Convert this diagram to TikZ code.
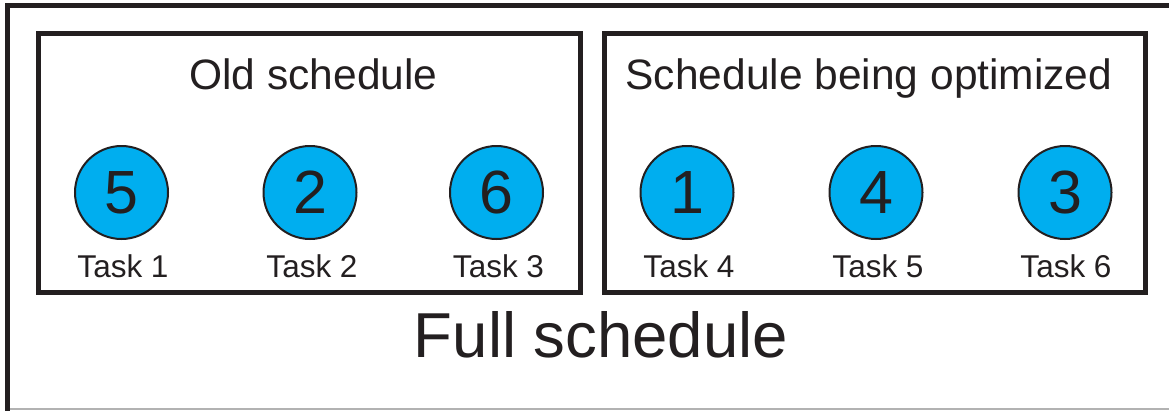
\documentclass[tikz,border=0pt]{standalone}
\usepackage{fontspec}
\setmainfont{Liberation Sans}
\definecolor{taskblue}{HTML}{00AEEF}
\definecolor{ink}{HTML}{231F20}
\begin{document}
\begin{tikzpicture}[x=1pt,y=-1pt,
  frame/.style={draw=ink, line width=5pt},
  task/.style={circle, draw=ink, line width=2pt, fill=taskblue, minimum size=93pt, inner sep=0pt, text=ink, font=\fontsize{61}{61}\selectfont},
  lbl/.style={anchor=base, text=ink, inner sep=0pt, font=\fontsize{31.5}{31.5}\selectfont},
  title/.style={anchor=base, text=ink, inner sep=0pt, font=\fontsize{42.5}{42.5}\selectfont},
  bigtitle/.style={anchor=base, text=ink, inner sep=0pt, font=\fontsize{63.5}{63.5}\selectfont}]
\useasboundingbox (0,0) rectangle (1169,410);
\clip (0,0) rectangle (1169,410);
% outer frame (right and bottom run past the edge)
\draw[frame] (7.5,5.5) rectangle (1190,425);
\draw[gray!60, line width=1.5pt] (10,409) -- (1169,409);
% inner boxes
\draw[frame] (38.5,33.5) rectangle (580.5,292.5);
\draw[frame] (604.5,33.5) rectangle (1145.5,292.5);
% titles
\node[title] (t1) at (313.5,89) {Old schedule};
\node[title] (t2) at (869,89) {Schedule being optimized};
\node[bigtitle] (full) at (601,357) {Full schedule};
% tasks
\node[task] (c1) at (121.5,192.5) {5};
\node[task] (c2) at (310,192.5) {2};
\node[task] (c3) at (496.5,192.5) {6};
\node[task] (c4) at (687,192.5) {1};
\node[task] (c5) at (876,192.5) {4};
\node[task] (c6) at (1065,192.5) {3};
\node[lbl] (l1) at (123,277) {Task 1};
\node[lbl] (l2) at (312,277) {Task 2};
\node[lbl] (l3) at (498.5,277) {Task 3};
\node[lbl] (l4) at (689,277) {Task 4};
\node[lbl] (l5) at (878,277) {Task 5};
\node[lbl] (l6) at (1066,277) {Task 6};
\end{tikzpicture}
\end{document}
